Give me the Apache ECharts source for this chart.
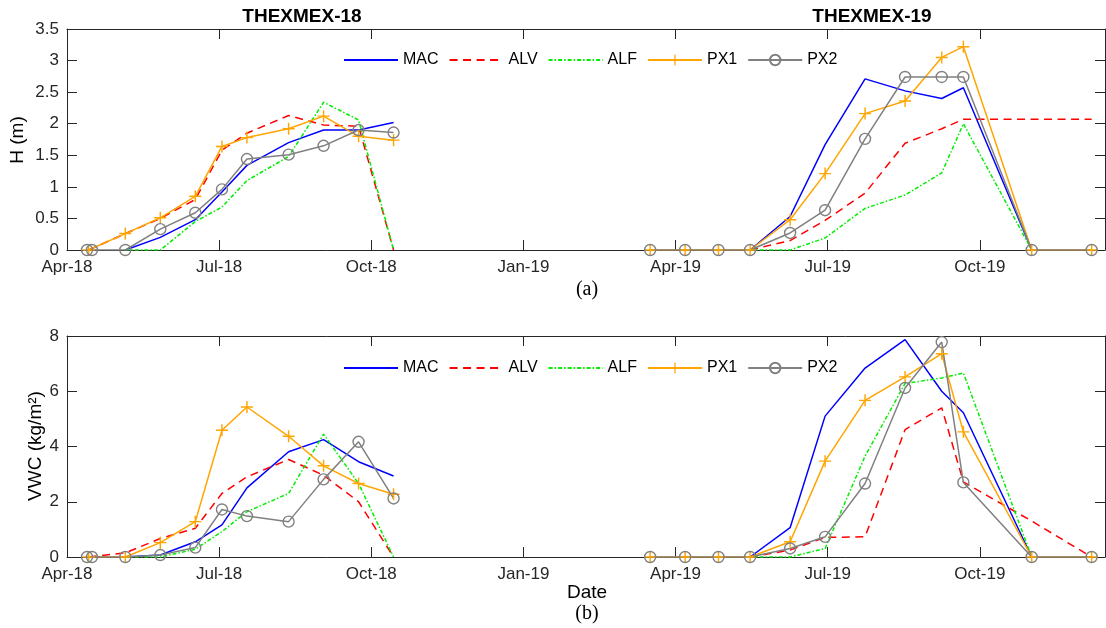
<!DOCTYPE html>
<html>
<head>
<meta charset="utf-8">
<title>THEXMEX vegetation height and water content</title>
<script src="https://cdn.jsdelivr.net/npm/echarts@6/dist/echarts.min.js"></script>
<style>
  html, body { margin: 0; padding: 0; background: #fff; }
  #chart { width: 1106px; height: 628px; }
</style>
</head>
<body>
<div id="chart"></div>
<script>
// ---- sampling dates -------------------------------------------------------
const dates18 = ['2018-04-14', '2018-05-06', '2018-05-27', '2018-06-17', '2018-07-03',
                 '2018-07-18', '2018-08-12', '2018-09-02', '2018-09-23', '2018-10-14'];
const datesPX2_18 = ['2018-04-13', '2018-04-16', '2018-05-06', '2018-05-27', '2018-06-17', '2018-07-03',
                     '2018-07-18', '2018-08-12', '2018-09-02', '2018-09-23', '2018-10-14'];
const dates19 = ['2019-03-17', '2019-04-07', '2019-04-27', '2019-05-16', '2019-06-09', '2019-06-30',
                 '2019-07-24', '2019-08-17', '2019-09-08', '2019-09-21', '2019-11-01', '2019-12-07'];

// ---- vegetation height H (m) ---------------------------------------------
const hMAC18 = [null, 0, 0.20, 0.48, 0.92, 1.34, 1.70, 1.90, 1.90, 2.02];
const hALV18 = [0, 0.26, 0.50, 0.80, 1.58, 1.85, 2.13, 1.98, 1.96, 0];
const hALF18 = [null, 0, 0, 0.45, 0.68, 1.10, 1.48, 2.34, 2.06, 0];
const hPX1_18 = [0, 0.26, 0.51, 0.85, 1.64, 1.78, 1.92, 2.12, 1.80, 1.74];
const hPX2_18 = [0, 0, 0, 0.33, 0.59, 0.96, 1.44, 1.51, 1.65, 1.90, 1.86];

const hMAC19 = [null, null, null, 0, 0.53, 1.67, 2.71, 2.52, 2.40, 2.57, 0, null];
const hALV19 = [null, null, null, 0, 0.15, 0.47, 0.90, 1.69, 1.92, 2.07, 2.07, 2.07];
const hALF19 = [null, null, null, 0, 0, 0.19, 0.66, 0.87, 1.22, 2.00, 0, null];
const hPX1_19 = [0, 0, 0, 0, 0.48, 1.21, 2.16, 2.36, 3.05, 3.22, 0, 0];
const hPX2_19 = [0, 0, 0, 0, 0.27, 0.63, 1.76, 2.74, 2.74, 2.74, 0, 0];

// ---- vegetation water content VWC (kg/m2) --------------------------------
const vMAC18 = [null, 0, 0.07, 0.55, 1.16, 2.50, 3.81, 4.25, 3.45, 2.93];
const vALV18 = [0, 0.15, 0.67, 1.04, 2.30, 2.90, 3.53, 2.96, 2.00, 0];
const vALF18 = [null, 0, 0, 0.28, 0.92, 1.64, 2.30, 4.45, 2.66, 0];
const vPX1_18 = [0, 0, 0.52, 1.28, 4.59, 5.43, 4.37, 3.30, 2.66, 2.27];
const vPX2_18 = [0, 0, 0, 0.07, 0.34, 1.72, 1.48, 1.28, 2.81, 4.17, 2.12];

const vMAC19 = [null, null, null, 0, 1.06, 5.10, 6.84, 7.87, 6.00, 5.22, 0, null];
const vALV19 = [null, null, null, 0, 0.25, 0.71, 0.73, 4.61, 5.40, 2.72, 1.30, 0];
const vALF19 = [null, null, null, 0, 0, 0.31, 3.65, 6.28, 6.48, 6.66, 0, null];
const vPX1_19 = [0, 0, 0, 0, 0.55, 3.47, 5.67, 6.52, 7.36, 4.53, 0, 0];
const vPX2_19 = [0, 0, 0, 0, 0.31, 0.73, 2.66, 6.12, 7.78, 2.70, 0, 0];

// ---- axis labels -----------------------------------------------------------
const quarterLabels = ['Apr-18', 'Jul-18', 'Oct-18', 'Jan-19', 'Apr-19', 'Jul-19', 'Oct-19'];
const seriesNames = ['MAC', 'ALV', 'ALF', 'PX1', 'PX2'];
const axisStart = '2018-04-01';
const axisEnd = '2019-12-15';

// ---- helpers -------------------------------------------------------------
function dayOf(s) {
  const [y, m, d] = s.split('-').map(Number);
  const [y0, m0, d0] = axisStart.split('-').map(Number);
  return (Date.UTC(y, m - 1, d) - Date.UTC(y0, m0 - 1, d0)) / 864e5;
}
function pts(dates, vals) {
  return dates.map((d, i) => [dayOf(d), vals[i]]).filter(p => p[1] !== null);
}
// two campaigns in one series, with a break between them
function campaigns(a, b) {
  const gapX = (a[a.length - 1][0] + b[0][0]) / 2;
  return a.concat([[gapX, '-']], b);
}

const QUARTER = 365.25 / 4;
const X_MAX = dayOf(axisEnd);
const INK = '#262626';
const SANS = '"Liberation Sans", Arial, Helvetica, sans-serif';

const styles = {
  MAC: { color: '#0000ff', type: 'solid', symbol: 'none' },
  ALV: { color: '#ff0000', type: [8, 5.5], symbol: 'none' },
  ALF: { color: '#00ee00', type: [4, 2, 1.5, 2], symbol: 'none' },
  PX1: { color: '#ffa500', type: 'solid',
         symbol: 'path://M0,0.44 H0.44 V0 H0.56 V0.44 H1 V0.56 H0.56 V1 H0.44 V0.56 H0 Z', size: 12 },
  PX2: { color: '#808080', type: 'solid', symbol: 'circle', size: 11 }
};

function makeSeries(name, data, idx) {
  const s = styles[name];
  const item = name === 'PX2'
    ? { color: 'rgba(255,255,255,0)', borderColor: s.color, borderWidth: 1.4 }
    : { color: s.color, borderWidth: 0 };
  return {
    name, type: 'line', data,
    xAxisIndex: idx, yAxisIndex: idx,
    symbol: s.symbol, symbolSize: s.size || 0, showSymbol: s.symbol !== 'none',
    lineStyle: { color: s.color, width: 1.5, type: s.type },
    itemStyle: item,
    connectNulls: false, animation: false, silent: true,
    emphasis: { disabled: true }
  };
}

const heightData = {
  MAC: campaigns(pts(dates18, hMAC18), pts(dates19, hMAC19)),
  ALV: campaigns(pts(dates18, hALV18), pts(dates19, hALV19)),
  ALF: campaigns(pts(dates18, hALF18), pts(dates19, hALF19)),
  PX1: campaigns(pts(dates18, hPX1_18), pts(dates19, hPX1_19)),
  PX2: campaigns(pts(datesPX2_18, hPX2_18), pts(dates19, hPX2_19))
};
const vwcData = {
  MAC: campaigns(pts(dates18, vMAC18), pts(dates19, vMAC19)),
  ALV: campaigns(pts(dates18, vALV18), pts(dates19, vALV19)),
  ALF: campaigns(pts(dates18, vALF18), pts(dates19, vALF19)),
  PX1: campaigns(pts(dates18, vPX1_18), pts(dates19, vPX1_19)),
  PX2: campaigns(pts(datesPX2_18, vPX2_18), pts(dates19, vPX2_19))
};

function xAxis(gridIndex, position, showLabels) {
  return {
    type: 'value', gridIndex, position,
    min: 0, max: X_MAX, interval: QUARTER,
    axisLine: { show: true, onZero: false, lineStyle: { color: INK, width: 1 } },
    axisTick: { show: true, inside: true, length: 10, lineStyle: { color: INK, width: 1 } },
    axisLabel: {
      show: showLabels, margin: 9, fontSize: 17, fontFamily: SANS, color: INK,
      showMaxLabel: false,
      formatter: v => {
        const k = Math.round(v / QUARTER);
        return Math.abs(v - k * QUARTER) < 0.01 ? (quarterLabels[k] || '') : '';
      }
    },
    splitLine: { show: false }
  };
}
function yAxis(gridIndex, position, max, interval, showLabels) {
  return {
    type: 'value', gridIndex, position, min: 0, max, interval,
    axisLine: { show: true, onZero: false, lineStyle: { color: INK, width: 1 } },
    axisTick: { show: true, inside: true, length: 10, lineStyle: { color: INK, width: 1 } },
    axisLabel: { show: showLabels, margin: 8, fontSize: 17, fontFamily: SANS, color: INK },
    splitLine: { show: false }
  };
}
// plain-line entries carry no marker in the key
function legend(top) {
  return {
    data: seriesNames.map(n => styles[n].symbol === 'none'
      ? { name: n, itemStyle: { color: 'rgba(0,0,0,0)', borderWidth: 0, opacity: 0 } }
      : { name: n }),
    left: 343, top,
    itemWidth: 54, itemHeight: 13, itemGap: 10, padding: 0,
    selectedMode: false,
    textStyle: { fontSize: 16, fontFamily: SANS, color: '#000' }
  };
}

function txt(x, y, text, font, rotation) {
  return {
    type: 'text', x, y, rotation: rotation || 0, silent: true,
    style: { text, font, fill: '#000', align: 'center', verticalAlign: 'middle' }
  };
}

const option = {
  backgroundColor: '#fff',
  animation: false,
  grid: [
    { left: 67, right: 1, top: 29, height: 221 },
    { left: 67, right: 1, top: 336, height: 221 }
  ],
  xAxis: [
    xAxis(0, 'bottom', true), xAxis(0, 'top', false),
    xAxis(1, 'bottom', true), xAxis(1, 'top', false)
  ],
  yAxis: [
    yAxis(0, 'left', 3.5, 0.5, true), yAxis(0, 'right', 3.5, 0.5, false),
    yAxis(1, 'left', 8, 2, true), yAxis(1, 'right', 8, 2, false)
  ],
  legend: [legend(52), legend(360)],
  series: [
    ...seriesNames.map(n => makeSeries(n, heightData[n], 0)),
    ...seriesNames.map(n => makeSeries(n, vwcData[n], 2))
  ],
  graphic: [
    txt(302, 17, 'THEXMEX-18', 'bold 19px ' + SANS),
    txt(872, 17, 'THEXMEX-19', 'bold 19px ' + SANS),
    txt(18, 140, 'H (m)', '19px ' + SANS, Math.PI / 2),
    txt(36, 446, 'VWC (kg/m²)', '19px ' + SANS, Math.PI / 2),
    txt(587, 290, '(a)', '20px "Liberation Serif", "Times New Roman", serif'),
    txt(587, 593, 'Date', '19px ' + SANS),
    txt(587, 614, '(b)', '20px "Liberation Serif", "Times New Roman", serif')
  ]
};

const chart = echarts.init(document.getElementById('chart'), null, { renderer: 'canvas' });
chart.setOption(option);
</script>
</body>
</html>
